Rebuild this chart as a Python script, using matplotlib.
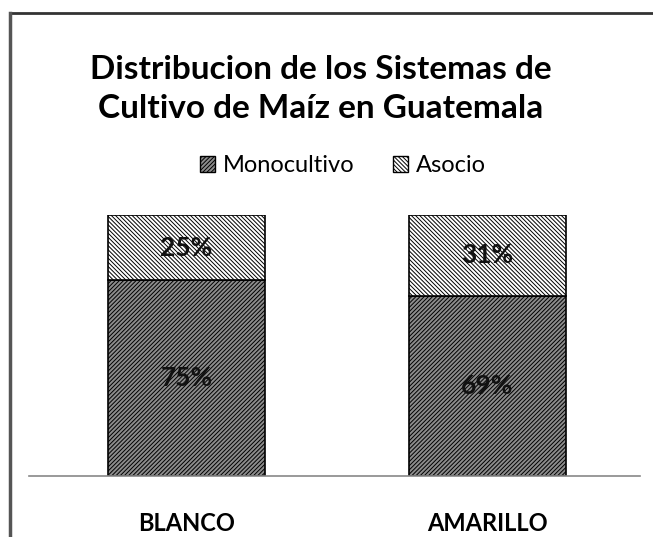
import matplotlib
matplotlib.use("Agg")
import matplotlib.pyplot as plt
from matplotlib.lines import Line2D
from matplotlib.patches import Patch

categories = ["BLANCO", "AMARILLO"]
monocultivo = [75, 69]
asocio = [25, 31]
series_names = ["Monocultivo", "Asocio"]
title = "Distribucion de los Sistemas de\nCultivo de Maíz en Guatemala"

plt.rcParams['font.family'] = ['Lato', 'DejaVu Sans']
plt.rcParams['hatch.linewidth'] = 0.7

W, H = 653, 537
fig = plt.figure(figsize=(W/100, H/100), dpi=100)

HM = '/' * 8
HA = '\\' * 8

# axes: baseline y=476, top (100%) y=215, x from 29 to 640
ax = fig.add_axes([29/W, (H-476)/H, (640-29)/W, (476-215)/H])
x = [0, 1]
width = 157/301
ax.bar(x, monocultivo, width, color='#8c8c8c', edgecolor='black', hatch=HM, linewidth=1.2, label=series_names[0])
ax.bar(x, asocio, width, bottom=monocultivo, color='white', edgecolor='black', hatch=HA, linewidth=1.2, label=series_names[1])
ax.set_xlim(-(186.5-29)/301, (640-186.5)/301)
ax.set_ylim(0, 100)
for s in ['top', 'right', 'left']:
    ax.spines[s].set_visible(False)
ax.spines['bottom'].set_color('#888888')
ax.spines['bottom'].set_linewidth(1.2)
ax.set_yticks([])
ax.set_xticks(x)
ax.set_xticklabels(categories, fontsize=17, fontweight='bold')
ax.tick_params(axis='x', length=0, pad=26)

for i in range(len(categories)):
    ax.text(x[i], monocultivo[i]/2, f"{monocultivo[i]}%", ha='center', va='center', fontsize=19, fontweight='bold', color='#111111')
    ax.text(x[i], monocultivo[i] + asocio[i]/2, f"{asocio[i]}%", ha='center', va='center', fontsize=19, fontweight='bold', color='#111111')

fig.text(321/W, 1-89/H, title, ha='center', va='center', fontsize=24, fontweight='bold', linespacing=1.42)

leg = fig.legend(handles=[Patch(facecolor='#8c8c8c', edgecolor='black', hatch=HM, label=series_names[0]),
                          Patch(facecolor='white', edgecolor='black', hatch=HA, label=series_names[1])],
                 loc='center', bbox_to_anchor=(343/W, 1-166/H), ncol=2, frameon=False, fontsize=17,
                 handlelength=0.65, handleheight=0.65, handletextpad=0.35, columnspacing=1.6)

# border lines
fig.add_artist(Line2D([10/W, 1], [1-13/H, 1-13/H], transform=fig.transFigure, color='#333333', lw=2))
fig.add_artist(Line2D([10/W, 10/W], [0, 1-13/H], transform=fig.transFigure, color='#555555', lw=2.5))

fig.savefig("out.png", dpi=100)
